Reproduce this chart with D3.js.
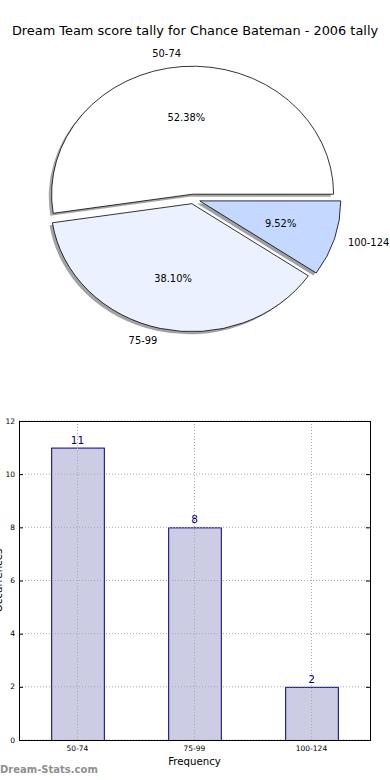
<!DOCTYPE html>
<html><head><meta charset="utf-8">
<script src="https://cdn.jsdelivr.net/npm/d3@7"></script>
<style>body{margin:0;background:#fff}svg{display:block;font-family:"DejaVu Sans",sans-serif}</style>
</head><body>
<svg id="c" width="390" height="780"></svg>
<script>
const title = "Dream Team score tally for Chance Bateman - 2006 tally";
const categories = ["50-74", "75-99", "100-124"];
const counts = [11, 8, 2];
const pctLabels = ["52.38%", "38.10%", "9.52%"];
const sliceColors = ["#ffffff", "#ebf1ff", "#c5d8ff"];
const explode = [0.0375, 0.0375, 0.05];
const yTicks = [0, 2, 4, 6, 8, 10, 12];
const xLabel = "Frequency";
const yLabel = "Occurrences";
const watermark = "Dream-Stats.com";

const svg = d3.select("#c");

svg.append("text").attr("x", 195).attr("y", 35).attr("text-anchor", "middle")
  .attr("font-size", 12.9).attr("fill", "#000").text(title);

// ---- Pie ----
const cx = 193, cy = 199, rx = 141, ry = 128;
const pie = d3.pie().sort(null).startAngle(Math.PI / 2).endAngle(Math.PI / 2 - 2 * Math.PI);
const arcs = pie(counts).map((d, i) => {
  const a0 = Math.PI / 2 - d.startAngle, a1 = Math.PI / 2 - d.endAngle;
  const mid = (a0 + a1) / 2;
  const ox = cx + explode[i] * rx * Math.cos(mid), oy = cy - explode[i] * ry * Math.sin(mid);
  return {i, a0, a1, mid, ox, oy};
});
function slicePath(s, dx, dy) {
  const x0 = s.ox + dx, y0 = s.oy + dy;
  const p = d3.path();
  p.moveTo(x0, y0);
  p.lineTo(x0 + rx * Math.cos(s.a0), y0 - ry * Math.sin(s.a0));
  const ex = x0 + rx * Math.cos(s.a1), ey = y0 - ry * Math.sin(s.a1);
  const large = (s.a1 - s.a0) > Math.PI ? 1 : 0;
  return p.toString() + `A${rx},${ry} 0 ${large} 0 ${ex},${ey}Z`;
}
const gPie = svg.append("g");
gPie.selectAll("path.shadow").data(arcs).join("path").attr("class", "shadow")
  .attr("d", s => slicePath(s, -0.02 * rx, 0.02 * ry))
  .attr("fill", s => { const c = d3.rgb(sliceColors[s.i]); return d3.rgb(c.r * 0.3, c.g * 0.3, c.b * 0.3); })
  .attr("fill-opacity", 0.5);
gPie.selectAll("path.slice").data(arcs).join("path").attr("class", "slice")
  .attr("d", s => slicePath(s, 0, 0))
  .attr("fill", s => sliceColors[s.i]).attr("stroke", "#000").attr("stroke-width", 0.8)
  .attr("stroke-linejoin", "miter");
gPie.selectAll("text.lab").data(arcs).join("text").attr("class", "lab")
  .attr("x", s => s.ox + 1.1 * rx * Math.cos(s.mid))
  .attr("y", s => s.oy - 1.1 * ry * Math.sin(s.mid))
  .attr("dy", "0.35em")
  .attr("text-anchor", s => Math.cos(s.mid) > 0 ? "start" : "end")
  .attr("font-size", 9.9).text(s => categories[s.i]);
gPie.selectAll("text.pct").data(arcs).join("text").attr("class", "pct")
  .attr("x", s => s.ox + 0.6 * rx * Math.cos(s.mid))
  .attr("y", s => s.oy - 0.6 * ry * Math.sin(s.mid))
  .attr("dy", "0.35em").attr("text-anchor", "middle")
  .attr("font-size", 9.9).text(s => pctLabels[s.i]);

// ---- Bar chart ----
const L = 19, R = 370, T = 421, B = 740;
const x = d3.scaleBand().domain(categories).range([L, R]).paddingInner(0.55).paddingOuter(0.275);
const y = d3.scaleLinear().domain([0, 12]).range([B, T]);
const gB = svg.append("g");
// bars
gB.selectAll("rect.bar").data(counts).join("rect")
  .attr("x", (d, i) => x(categories[i]) + 0.5).attr("width", x.bandwidth())
  .attr("y", d => y(d) + 0.5).attr("height", d => y(0) - y(d))
  .attr("fill", "#cccce5")
  .attr("stroke", "#000080").attr("stroke-width", 1);
// grid (drawn above the bars)
gB.selectAll("line.vg").data(categories).join("line")
  .attr("y1", T).attr("y2", B).attr("x1", d => x(d) + x.bandwidth() / 2).attr("x2", d => x(d) + x.bandwidth() / 2)
  .attr("stroke", "#aaa").attr("stroke-width", 1).attr("stroke-dasharray", "1,2");
gB.selectAll("line.hg").data(yTicks).join("line")
  .attr("x1", L).attr("x2", R).attr("y1", d => y(d)).attr("y2", d => y(d))
  .attr("stroke", "#aaa").attr("stroke-width", 1).attr("stroke-dasharray", "1,2");
// value labels
gB.selectAll("text.val").data(counts).join("text")
  .attr("x", (d, i) => x(categories[i]) + x.bandwidth() / 2).attr("y", d => y(d) - 4)
  .attr("text-anchor", "middle").attr("font-size", 10.5).attr("fill", "#000080").text(d => d);
// frame
gB.append("rect").attr("x", L + 0.5).attr("y", T + 0.5).attr("width", R - L).attr("height", B - T)
  .attr("fill", "none").attr("stroke", "#000").attr("stroke-width", 1);
// ticks
gB.selectAll("line.yt").data(yTicks).join("line")
  .attr("x1", L).attr("x2", L + 4).attr("y1", d => y(d) + 0.5).attr("y2", d => y(d) + 0.5).attr("stroke", "#000");
gB.selectAll("line.yt2").data(yTicks).join("line")
  .attr("x1", R - 4).attr("x2", R).attr("y1", d => y(d) + 0.5).attr("y2", d => y(d) + 0.5).attr("stroke", "#000");
gB.selectAll("text.ytl").data(yTicks).join("text")
  .attr("x", L - 4).attr("y", d => y(d)).attr("dy", "0.35em").attr("text-anchor", "end")
  .attr("font-size", 7.5).text(d => d);
gB.selectAll("text.xtl").data(categories).join("text")
  .attr("x", d => x(d) + x.bandwidth() / 2).attr("y", B + 11).attr("text-anchor", "middle")
  .attr("font-size", 7.5).text(d => d);
svg.append("text").attr("x", (L + R) / 2).attr("y", 765).attr("text-anchor", "middle")
  .attr("font-size", 10.2).text(xLabel);
svg.append("text").attr("transform", `translate(1.5,${(T + B) / 2}) rotate(-90)`)
  .attr("text-anchor", "middle").attr("font-size", 10.2).text(yLabel);
svg.append("text").attr("x", 0).attr("y", 773).attr("font-size", 10).attr("font-weight", "bold")
  .attr("fill", "#8f8f8f").text(watermark);
</script>
</body></html>
